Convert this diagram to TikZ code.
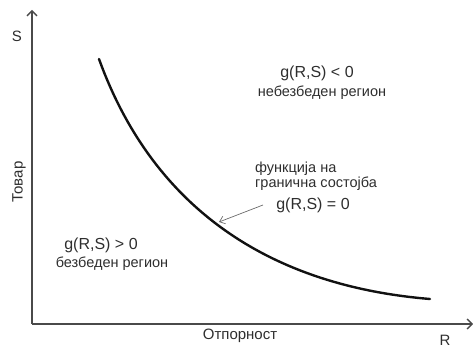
\documentclass[tikz,border=0pt]{standalone}
\usepackage{fontspec}
\setmainfont{Liberation Sans}
\usepackage{tikz}
\usetikzlibrary{arrows.meta, positioning}
\definecolor{limitaxis}{HTML}{4A4A4A}
\definecolor{limittext}{HTML}{2E2E2E}
\definecolor{limitcurve}{HTML}{111111}
\definecolor{limitpointer}{HTML}{6A6A6A}

\begin{document}
\begin{tikzpicture}[x=1pt, y=-1pt,
  axis/.style={draw=limitaxis, line width=1.4pt, -{Straight Barb[length=5pt, width=10pt]}},
  curve/.style={draw=limitcurve, line width=2.4pt, line cap=round},
  pointer/.style={draw=limitpointer, line width=0.7pt, -{Straight Barb[length=5pt, width=8pt]}},
  axlabel/.style={text=limittext, font=\fontsize{15}{17}\selectfont, inner sep=0pt},
  glabel/.style={text=limittext, font=\fontsize{16}{18}\selectfont, inner sep=0pt},
  region/.style={text=limittext, font=\fontsize{14.5}{16}\selectfont, inner sep=0pt}
]
\useasboundingbox (0,0) rectangle (473,347);

\coordinate (o) at (32,324);
\coordinate (stop) at (32,10);
\coordinate (rend) at (473,324);

\draw[axis] (o) -- (stop);
\draw[axis] (o) -- (rend);

\node[axlabel] (s) at (17,36) {S};
\node[axlabel] (r) at (445,340) {R};
\node[axlabel] (rlabel) at (240,336) {Отпорност};
\node[axlabel, rotate=90] (slabel) at (19,182) {Товар};

\coordinate (cstart) at (99,59);
\coordinate (cend) at (430,299);
\draw[curve] (cstart) .. controls (150,200) and (260,285) .. (cend);
\coordinate (tip) at (219,222);

\node[glabel] (gneg) at (317,73) {g(R,S) < 0};
\node[region] (unsafe) at (322,93) {небезбеден регион};

\node[region, align=left, anchor=north west] (lsf) at (255,162) {функција на\\[-1pt]гранична состојба};
\node[glabel] (gzero) at (313,205) {g(R,S) = 0};
\coordinate (ptail) at (263,205);
\draw[pointer] (ptail) -- (tip);

\node[glabel] (gpos) at (101,245) {g(R,S) > 0};
\node[region] (safe) at (112,264) {безбеден регион};
\end{tikzpicture}
\end{document}
